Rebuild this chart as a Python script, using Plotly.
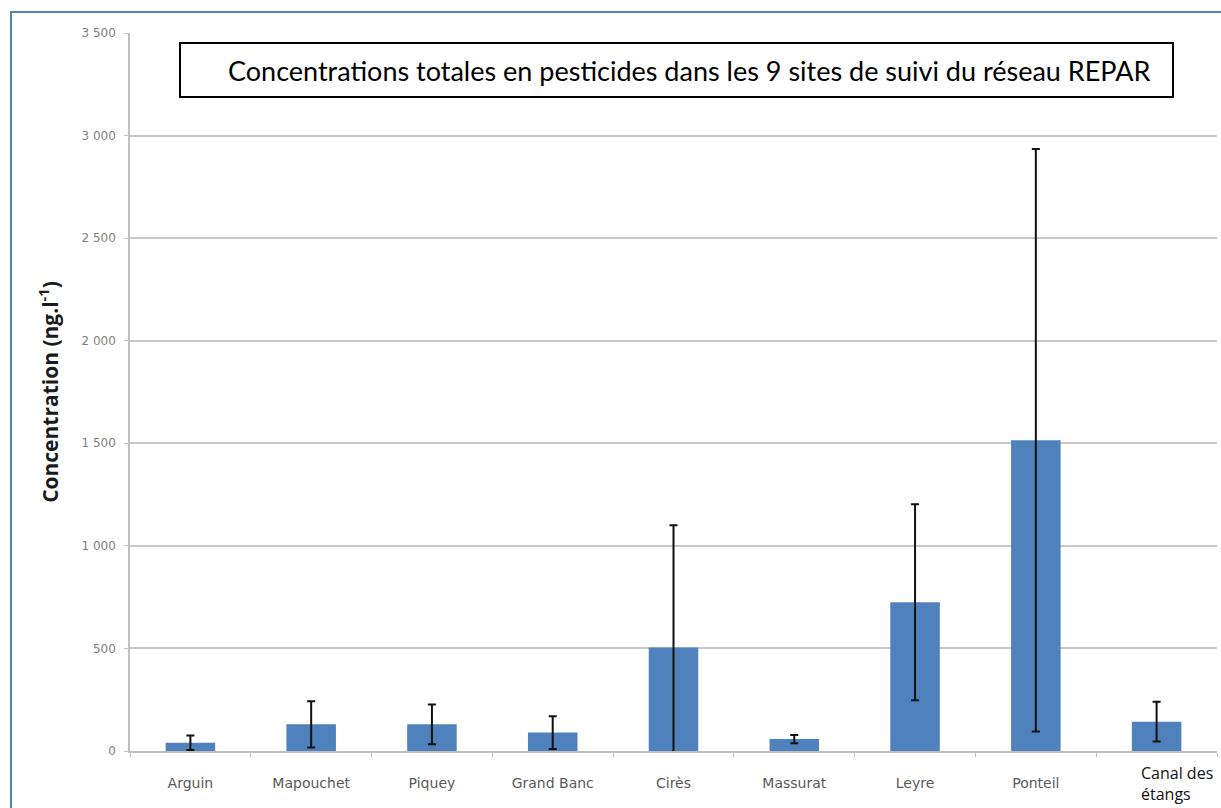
import plotly.graph_objects as go

# Sites du réseau REPAR et concentrations totales (ng/l)
sites = ["Arguin", "Mapouchet", "Piquey", "Grand Banc", "Cirès",
         "Massurat", "Leyre", "Ponteil", "Canal des étangs"]
moyennes = [40, 130, 130, 90, 505, 58, 725, 1515, 143]
ecarts = [35, 113, 97, 80, 595, 20, 478, 1420, 97]
tick_labels = ["Arguin", "Mapouchet", "Piquey", "Grand Banc", "Cirès",
               "Massurat", "Leyre", "Ponteil", ""]
y_ticks = [0, 500, 1000, 1500, 2000, 2500, 3000, 3500]
y_tick_text = ["0", "500", "1 000", "1 500", "2 000", "2 500", "3 000", "3 500"]

W, H = 1221, 808
L, R, T, B = 130, 4, 33, 57
pw, ph = W - L - R, H - T - B


def px_x(x):
    return (x - L) / pw


def px_y(y):
    return (H - B - y) / ph


fig = go.Figure()
fig.add_trace(go.Bar(
    x=sites,
    y=moyennes,
    width=0.41,
    marker=dict(color="#4F81BD", line=dict(width=0)),
    error_y=dict(type="data", array=ecarts, visible=True,
                 color="#111111", thickness=2, width=4),
))

fig.update_layout(
    width=W, height=H,
    margin=dict(l=L, r=R, t=T, b=B),
    paper_bgcolor="white",
    plot_bgcolor="white",
    showlegend=False,
    bargap=0.59,
    font=dict(family="Open Sans, Liberation Sans, sans-serif"),
    xaxis=dict(
        type="category",
        tickmode="array",
        tickvals=sites,
        ticktext=tick_labels,
        tickfont=dict(size=14, color="#595959", family="DejaVu Sans, sans-serif"),
        showline=True, linecolor="#bfbfbf", linewidth=1.5,
        ticks="outside", ticklen=4, tickcolor="#bfbfbf",
        tickson="boundaries",
        ticklabelstandoff=18,
        showgrid=False,
        range=[-0.5, 8.5],
    ),
    yaxis=dict(
        range=[0, 3500],
        tickmode="array",
        tickvals=y_ticks,
        ticktext=y_tick_text,
        tickfont=dict(size=12, color="#7f7f7f", family="DejaVu Sans, sans-serif"),
        ticklabelstandoff=6,
        showgrid=True, gridcolor="#c8c8c8", gridwidth=1.5,
        showline=True, linecolor="#bfbfbf", linewidth=1.5,
        ticks="outside", ticklen=4, tickcolor="#bfbfbf",
        zeroline=False,
        title=dict(text="<b>Concentration (ng.l<sup>-1</sup>)</b>",
                   font=dict(size=21, color="#1a1a1a",
                             family="Open Sans, Liberation Sans, sans-serif"),
                   standoff=17),
    ),
)

# Libellé sur deux lignes pour le dernier site
fig.add_annotation(
    x=px_x(1139), y=px_y(760), xref="paper", yref="paper",
    text="Canal des<br>étangs", showarrow=False,
    xanchor="left", yanchor="top", align="left",
    font=dict(size=16, color="#111111", family="Open Sans, Liberation Sans, sans-serif"),
)

# Encadré du titre
fig.add_shape(type="rect", xref="paper", yref="paper",
              x0=px_x(180), x1=px_x(1173), y0=px_y(97), y1=px_y(43),
              line=dict(color="black", width=2), fillcolor="white", layer="above")
fig.add_annotation(
    x=px_x(689), y=(px_y(97) + px_y(43)) / 2,
    xref="paper", yref="paper", showarrow=False,
    xanchor="center", yanchor="middle",
    text="Concentrations totales en pesticides dans les 9 sites de suivi du réseau REPAR",
    font=dict(size=27, color="black", family="Lato, Open Sans, sans-serif"),
)

# Cadre bleu extérieur
fig.add_shape(type="rect", xref="paper", yref="paper",
              x0=px_x(11), x1=px_x(W + 10), y0=px_y(H + 10), y1=px_y(12),
              line=dict(color="#4F81BD", width=2), fillcolor="rgba(0,0,0,0)",
              layer="above")

fig.write_html("out.html")
